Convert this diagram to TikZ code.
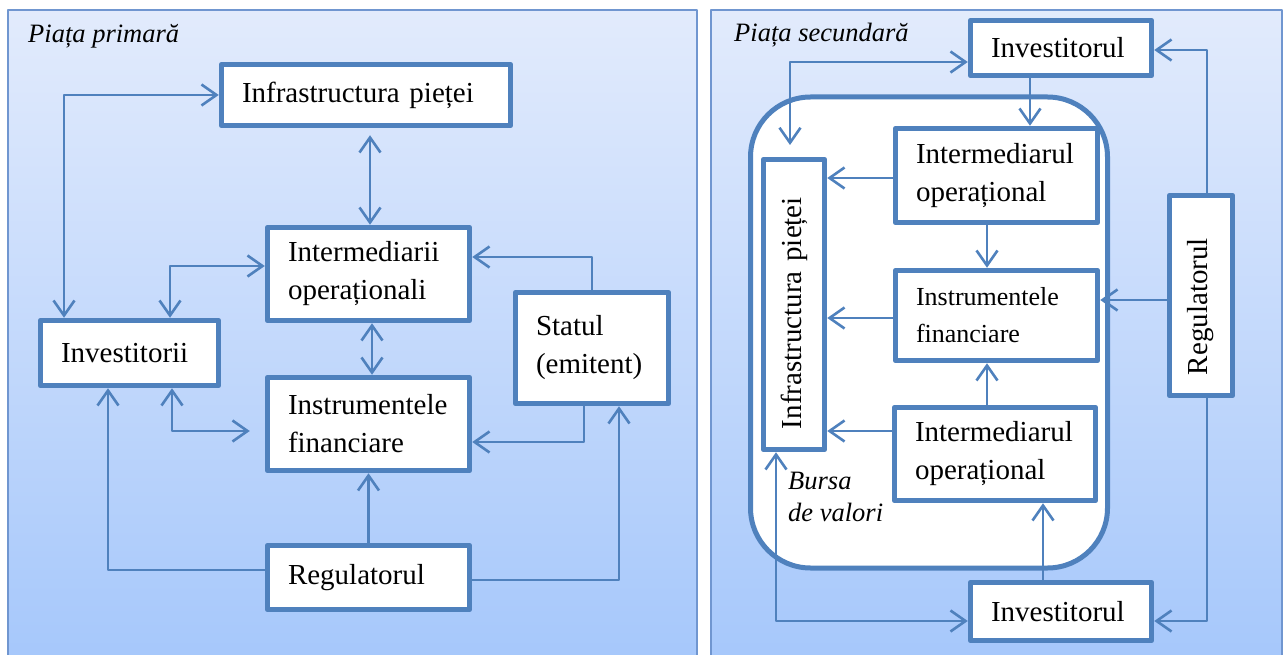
\documentclass[tikz,border=0pt]{standalone}
\usepackage{fontspec}
\setmainfont{Liberation Serif}
\usetikzlibrary{arrows.meta}

\definecolor{boxblue}{RGB}{79,129,189}
\definecolor{skytop}{RGB}{226,235,252}
\definecolor{skybot}{RGB}{165,199,251}
\definecolor{frameblue}{RGB}{112,150,208}

\begin{document}
\begin{tikzpicture}[x=1pt, y=-1pt, line cap=round, line join=round,
    >={Straight Barb[length=15pt,width=21pt]},
    box/.style={draw=boxblue, line width=5.5pt, fill=white, inner xsep=20.5pt, inner ysep=0pt,
      align=left, font=\fontsize{29}{38}\selectfont},
    link/.style={draw=boxblue, line width=2.6pt},
    title/.style={inner sep=0pt, anchor=base west, font=\fontsize{26.5}{32}\selectfont\itshape}] % 1pt = 1px

  \useasboundingbox (0,0) rectangle (1288,655);
  \shade[top color=skytop, bottom color=skybot, draw=frameblue, line width=1.5pt] (8,10) rectangle (697,670);
  \shade[top color=skytop, bottom color=skybot, draw=frameblue, line width=1.5pt] (711,10) rectangle (1282,670);

  % piata primara
  \node[title] at (28,43) {Piața primară};
  \node[box, text width=248pt, minimum height=61pt] (infra) at (366,95) {Infrastructura pieței};
  \node[box, text width=161pt, minimum height=93pt] (inter) at (368.5,274) {Intermediarii\\operaționali};
  \node[box, text width=161pt, minimum height=93pt] (instr) at (368.5,424) {Instrumentele\\financiare};
  \node[box, text width=161pt, minimum height=64pt] (reg) at (368.5,577.5) {Regulatorul};
  \node[box, text width=137pt, minimum height=65pt] (invs) at (129.5,353) {Investitorii};
  \node[box, text width=112pt, minimum height=111pt] (stat) at (592,348) {Statul\\(emitent)};

  \draw[link, <->, shorten >=7pt] (inter.north -| 370,0) -- (infra.south -| 370,0);
  \draw[link, <->] (invs.north -| 64,0) |- (infra.west);
  \draw[link, <->] (invs.north -| 170,0) |- (inter.west |- 0,266);
  \draw[link, <->] (inter.south -| 372,0) -- (instr.north -| 372,0);
  \draw[link, ->] (stat.north) |- (inter.east |- 0,257);
  \draw[link, ->] (stat.south -| 584,0) |- (instr.east |- 0,442);
  \draw[link, <->, shorten >=15pt] (invs.south -| 172,0) |- (instr.west |- 0,431);
  \draw[link, ->] (reg) -- (instr);
  \draw[link, ->] (reg.west |- 0,570) -| (invs.south -| 108,0);
  \draw[link, ->] (reg.east |- 0,580) -| (stat.south -| 619,0);

  % piata secundara
  \node[title] at (734,42) {Piața secundară};
  \draw[draw=boxblue, fill=white, line width=5pt, rounded corners=60pt] (750.5,97) rectangle (1107.5,568);
  \node[box, text width=140pt, minimum height=55pt] (invt) at (1061,48) {Investitorul};
  \node[box, rotate=90, text width=249pt, minimum height=61pt] (infr) at (794,304.5) {Infrastructura pieței};
  \node[box, text width=161pt, minimum height=94pt] (im1) at (996.5,175.5) {Intermediarul\\operațional};
  \node[box, text width=161pt, minimum height=90pt, font=\fontsize{26}{37}\selectfont] (ins2) at (996.5,315.5) {Instrumentele\\financiare};
  \node[box, text width=160pt, minimum height=93pt] (im2) at (995,454) {Intermediarul\\operațional};
  \node[box, rotate=90, text width=159pt, minimum height=63pt] (reg2) at (1201,295.5) {Regulatorul};
  \node[box, text width=140pt, minimum height=58pt] (inb) at (1061,611.5) {Investitorul};
  \node[title, anchor=west, align=left, font=\fontsize{26.5}{32}\selectfont\itshape] (bursa) at (788,497) {Bursa\\de valori};

  \coordinate (c1) at (790,145);
  \draw[link, <->] (invt.west |- 0,62) -| (c1);
  \draw[link, ->] (invt.south -| 1030,0) -- (im1.north -| 1030,0);
  \draw[link, ->] (reg2.east -| 1207,0) |- (invt.east |- 0,50);
  \draw[link, ->] (im1.west |- 0,178) -- (infr.south |- 0,178);
  \draw[link, ->] (im1.south -| 987,0) -- (ins2.north -| 987,0);
  \draw[link, ->] (ins2.west |- 0,318) -- (infr.south |- 0,318);
  \draw[link, ->] (reg2.north |- 0,300) -- (ins2.east |- 0,300);
  \draw[link, ->] (im2.north -| 987,0) -- (ins2.south -| 987,0);
  \draw[link, ->] (im2.west |- 0,431) -- (infr.south |- 0,431);
  \draw[link, ->] (inb.north -| 1043,0) -- (im2.south -| 1043,0);
  \draw[link, <->] (infr.west -| 776,0) |- (inb.west |- 0,621);
  \draw[link, ->] (reg2.west -| 1207,0) |- (inb.east |- 0,621);
\end{tikzpicture}
\end{document}
